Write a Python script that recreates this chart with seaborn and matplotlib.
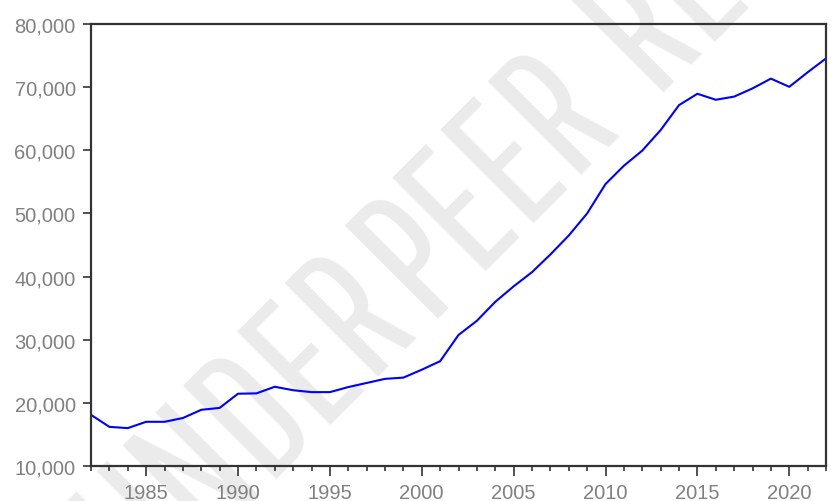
import matplotlib
matplotlib.use("Agg")
import matplotlib.pyplot as plt
from matplotlib.ticker import FuncFormatter, MultipleLocator
import pandas as pd
import seaborn as sns

years = list(range(1982, 2023))
values = [
    18100, 16200, 16000, 17000, 17000, 17600, 18900, 19200, 21450, 21500,
    22550, 22000, 21700, 21700, 22500, 23150, 23800, 24000, 25250, 26600,
    30750, 33000, 36000, 38450, 40700, 43500, 46500, 50000, 54650, 57550,
    59950, 63200, 67150, 68950, 68000, 68500, 69800, 71350, 70050, 72350,
    74550,
]
y_ticks = [10000, 20000, 30000, 40000, 50000, 60000, 70000, 80000]
x_ticks = [1985, 1990, 1995, 2000, 2005, 2010, 2015, 2020]
stamp_words = ["UNDER", "PEER", "REVIEW"]

df = pd.DataFrame({"year": years, "value": values})

sns.set_theme(style="ticks")
plt.rcParams["font.family"] = ["Liberation Sans", "DejaVu Sans"]

W, H = 832, 502
fig = plt.figure(figsize=(W / 100, H / 100), dpi=100)
fig.patch.set_facecolor("white")
ax = fig.add_axes([91 / W, 35 / H, (826 - 91) / W, (467 - 25) / H])
ax.patch.set_alpha(0)

sns.lineplot(data=df, x="year", y="value", ax=ax, color="#0000ff", linewidth=1.5)

ax.set_xlim(1982, 2022)
ax.set_ylim(10000, 80000)
ax.set_xticks(x_ticks)
ax.xaxis.set_minor_locator(MultipleLocator(1))
ax.set_yticks(y_ticks)
ax.yaxis.set_major_formatter(FuncFormatter(lambda v, _: f"{int(v):,}"))
ax.set_xlabel("")
ax.set_ylabel("")

for side in ["left", "right", "top", "bottom"]:
    ax.spines[side].set_visible(True)
    ax.spines[side].set_color("#333333")
    ax.spines[side].set_linewidth(1.6)

ax.tick_params(axis="both", which="major", colors="#333333", labelcolor="#808080",
               labelsize=14.5, width=1.2, direction="out")
ax.tick_params(axis="x", which="major", length=7, pad=5)
ax.tick_params(axis="x", which="minor", length=3.8, width=1.2, color="#333333")
ax.tick_params(axis="y", which="major", length=6, pad=5)
ax.tick_params(axis="y", which="minor", length=0)

# faint diagonal review stamp behind the plot, one word at a time,
# all sitting on the same 45-degree baseline
stamp_anchors = [((284, 461), "center"), ((524, 221), "center"), ((652, 93), "left")]
stamp_color = "#ebebeb"
stamp_fonts = ["Saira Extra Condensed", "Pathway Gothic One",
               "Fira Sans Extra Condensed", "Open Sans"]
for word, ((px, py), align) in zip(stamp_words, stamp_anchors):
    fig.text(px / W, 1 - py / H, word, rotation=45, rotation_mode="anchor",
             ha=align, va="baseline", fontsize=136, color=stamp_color,
             family=stamp_fonts, fontstretch="condensed", fontweight=400,
             zorder=-1)

fig.savefig("out.png", dpi=100, facecolor="white")
